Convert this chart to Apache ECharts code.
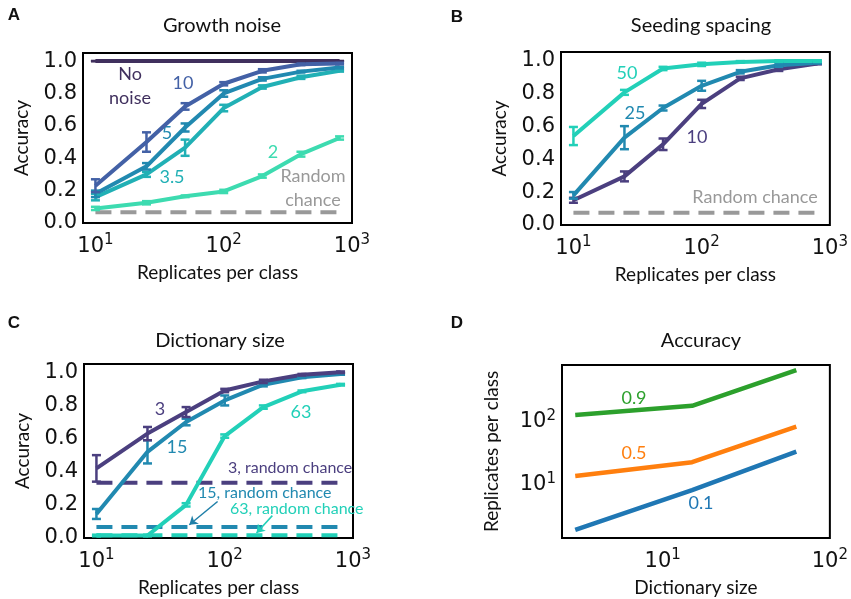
<!DOCTYPE html>
<html>
<head>
<meta charset="utf-8">
<script src="https://cdn.jsdelivr.net/npm/echarts@6/dist/echarts.min.js"></script>
<style>
  html, body { margin: 0; padding: 0; background: #fff; }
  #main { width: 851px; height: 599px; }
</style>
</head>
<body>
<div id="main"></div>
<script>
// replicates per class (x values of panels A-C)
var reps = [10, 25, 50, 100, 200, 400, 800];

// A - growth noise
var growthNoNoise = [1.0, 1.0, 1.0, 1.0, 1.0, 1.0, 1.0];
var growth10 = [0.23, 0.50, 0.72, 0.86, 0.94, 0.98, 0.985];
var growth10Err = [0.04, 0.06, 0.02, 0.01, 0.01, 0.005, 0.005];
var growth5 = [0.18, 0.35, 0.59, 0.80, 0.89, 0.935, 0.96];
var growth5Err = [0.02, 0.02, 0.025, 0.02, 0.01, 0.005, 0.005];
var growth35 = [0.16, 0.30, 0.465, 0.71, 0.84, 0.90, 0.94];
var growth35Err = [0.02, 0.015, 0.05, 0.02, 0.01, 0.01, 0.005];
var growth2 = [0.09, 0.125, 0.165, 0.195, 0.29, 0.425, 0.525];
var growth2Err = [0.01, 0.01, 0.005, 0.01, 0.01, 0.015, 0.01];
var growthChance = 0.067;

// B - seeding spacing
var seed50 = [0.54, 0.805, 0.95, 0.975, 0.99, 0.995, 0.995];
var seed50Err = [0.055, 0.015, 0.01, 0.01, 0.005, 0.005, 0.005];
var seed25 = [0.18, 0.53, 0.71, 0.845, 0.93, 0.97, 0.985];
var seed25Err = [0.02, 0.07, 0.015, 0.03, 0.01, 0.01, 0.005];
var seed10 = [0.15, 0.295, 0.49, 0.735, 0.89, 0.945, 0.98];
var seed10Err = [0.015, 0.03, 0.035, 0.025, 0.01, 0.01, 0.005];
var seedChance = 0.075;

// C - dictionary size
var dict3 = [0.42, 0.63, 0.76, 0.89, 0.945, 0.985, 1.0];
var dict3Err = [0.08, 0.04, 0.03, 0.01, 0.01, 0.005, 0.005];
var dict15 = [0.145, 0.52, 0.70, 0.83, 0.925, 0.97, 0.99];
var dict15Err = [0.03, 0.07, 0.02, 0.03, 0.01, 0.005, 0.005];
var dict63 = [0.015, 0.015, 0.20, 0.615, 0.79, 0.885, 0.925];
var dict63Err = [0.005, 0.005, 0.01, 0.01, 0.01, 0.005, 0.005];
var dictChance = [0.333, 0.067, 0.016];

// D - replicates needed for given accuracy
var dictSizes = [3, 15, 63];
var acc90 = [128, 179, 656];
var acc50 = [13.9, 22.9, 83.4];
var acc10 = [1.95, 8.3, 33.6];

var cPurple = '#40305e', cBlue = '#4361a6', cTealBlue = '#2189b0',
    cTeal = '#21b0b5', cAqua = '#3ddbb0', cGray = '#999999',
    cPurple2 = '#4b3f7f', cTeal2 = '#22d0b8';

var tickFont = 'DejaVu Sans';
var textFont = 'Lato';

function pairs(xs, ys) {
  return xs.map(function (x, i) { return [x, ys[i]]; });
}

function lineS(g, ys, color) {
  return {
    type: 'line', xAxisIndex: g, yAxisIndex: g, data: pairs(reps, ys),
    symbol: 'none', lineStyle: { color: color, width: 4 }, itemStyle: { color: color },
    z: 3
  };
}

function errorBars(params, api) {
  var x = api.value(0), y = api.value(1), e = api.value(2);
  var lo = api.coord([x, y - e]), hi = api.coord([x, y + e]);
  var w = 4.5;
  var st = { stroke: api.visual('color'), lineWidth: 2.5 };
  return {
    type: 'group', children: [
      { type: 'line', shape: { x1: lo[0], y1: lo[1], x2: hi[0], y2: hi[1] }, style: st },
      { type: 'line', shape: { x1: lo[0] - w, y1: lo[1], x2: lo[0] + w, y2: lo[1] }, style: st },
      { type: 'line', shape: { x1: hi[0] - w, y1: hi[1], x2: hi[0] + w, y2: hi[1] }, style: st }
    ]
  };
}

function errS(g, ys, es, color) {
  return {
    type: 'custom', xAxisIndex: g, yAxisIndex: g, renderItem: errorBars,
    data: reps.map(function (x, i) { return [x, ys[i], es[i]]; }),
    encode: { x: 0, y: 1 }, itemStyle: { color: color }, z: 4
  };
}

function dashS(g, level, color) {
  return {
    type: 'line', xAxisIndex: g, yAxisIndex: g,
    data: [[reps[0], level], [reps[reps.length - 1], level]],
    symbol: 'none', lineStyle: { color: color, width: 4, type: [16, 9] }, z: 2
  };
}

function logLabel(v) {
  var e = Math.log10(v);
  if (Math.abs(e - Math.round(e)) > 0.01) return '';
  return '10{s|' + Math.round(e) + '}';
}

var logRich = {
  s: { fontFamily: tickFont, fontSize: 15, color: '#111', padding: [0, 0, 12, 0] }
};

function xLog(g, min, max, name) {
  return {
    type: 'log', gridIndex: g, min: min, max: max, splitNumber: 2,
    name: name, nameLocation: 'middle', nameGap: 40,
    nameTextStyle: { fontFamily: textFont, fontSize: 19, color: '#111' },
    axisLine: { show: false }, axisTick: { show: false }, splitLine: { show: false },
    axisLabel: {
      formatter: logLabel, fontFamily: tickFont, fontSize: 21, color: '#111',
      margin: 10, rich: logRich
    }
  };
}

function yAcc(g) {
  return {
    type: 'value', gridIndex: g, min: 0, max: 1.05, interval: 0.2,
    name: 'Accuracy', nameLocation: 'middle', nameGap: 52,
    nameTextStyle: { fontFamily: textFont, fontSize: 19, color: '#111' },
    axisLine: { show: false }, axisTick: { show: false }, splitLine: { show: false },
    axisLabel: {
      fontFamily: tickFont, fontSize: 21, color: '#111', margin: 6, showMaxLabel: false,
      formatter: function (v) {
        if (Math.abs(v * 5 - Math.round(v * 5)) > 1e-6) return '';
        return v.toFixed(1);
      }
    }
  };
}

function txt(x, y, s, color, opts) {
  opts = opts || {};
  return {
    type: 'text', x: x, y: y, silent: true,
    style: {
      text: s, fill: color, align: opts.align || 'center', verticalAlign: 'middle',
      font: (opts.weight || 'normal') + ' ' + (opts.size || 18) + 'px ' + (opts.family || textFont)
    }
  };
}

var gridBox = { show: true, borderColor: '#000', borderWidth: 2, backgroundColor: 'transparent' };

var option = {
  backgroundColor: '#fff',
  animation: false,
  title: [
    { text: 'Growth noise', left: 217, top: 11, textAlign: 'center' },
    { text: 'Seeding spacing', left: 696, top: 11, textAlign: 'center' },
    { text: 'Dictionary size', left: 215, top: 326, textAlign: 'center' },
    { text: 'Accuracy', left: 696, top: 326, textAlign: 'center' }
  ].map(function (t) {
    t.textStyle = { fontFamily: textFont, fontSize: 20, fontWeight: 'normal', color: '#111' };
    return t;
  }),
  grid: [
    Object.assign({ left: 83, top: 53, width: 269, height: 170 }, gridBox),
    Object.assign({ left: 561, top: 52, width: 269, height: 173 }, gridBox),
    Object.assign({ left: 84, top: 364, width: 269, height: 174 }, gridBox),
    Object.assign({ left: 562, top: 365, width: 270, height: 173 }, gridBox)
  ],
  xAxis: [
    xLog(0, 8, 1000, 'Replicates per class'),
    xLog(1, 8, 1000, 'Replicates per class'),
    xLog(2, 8, 1000, 'Replicates per class'),
    xLog(3, 2.5, 100, 'Dictionary size')
  ],
  yAxis: [
    yAcc(0), yAcc(1), yAcc(2),
    {
      type: 'log', gridIndex: 3, min: 1.45, max: 790, splitNumber: 3,
      name: 'Replicates per class', nameLocation: 'middle', nameGap: 61,
      nameTextStyle: { fontFamily: textFont, fontSize: 19, color: '#111' },
      axisLine: { show: false }, axisTick: { show: false }, splitLine: { show: false },
      axisLabel: { formatter: logLabel, fontFamily: tickFont, fontSize: 21, color: '#111', margin: 6, rich: logRich }
    }
  ],
  series: [
    // A
    dashS(0, growthChance, cGray),
    lineS(0, growthNoNoise, cPurple), errS(0, growthNoNoise, [0, 0, 0, 0, 0, 0, 0], cPurple),
    lineS(0, growth2, cAqua), errS(0, growth2, growth2Err, cAqua),
    lineS(0, growth35, cTeal), errS(0, growth35, growth35Err, cTeal),
    lineS(0, growth5, cTealBlue), errS(0, growth5, growth5Err, cTealBlue),
    lineS(0, growth10, cBlue), errS(0, growth10, growth10Err, cBlue),
    // B
    dashS(1, seedChance, cGray),
    lineS(1, seed10, cPurple2), errS(1, seed10, seed10Err, cPurple2),
    lineS(1, seed25, cTealBlue), errS(1, seed25, seed25Err, cTealBlue),
    lineS(1, seed50, cTeal2), errS(1, seed50, seed50Err, cTeal2),
    // C
    dashS(2, dictChance[0], cPurple2),
    dashS(2, dictChance[1], cTealBlue),
    dashS(2, dictChance[2], cTeal2),
    lineS(2, dict63, cTeal2), errS(2, dict63, dict63Err, cTeal2),
    lineS(2, dict15, cTealBlue), errS(2, dict15, dict15Err, cTealBlue),
    lineS(2, dict3, cPurple2), errS(2, dict3, dict3Err, cPurple2),
    {
      type: 'line', xAxisIndex: 2, yAxisIndex: 2, data: [], symbol: 'none',
      markLine: {
        silent: true, symbol: ['none', 'arrow'], symbolSize: 8, label: { show: false },
        data: [
          [{ coord: [88, 0.22], lineStyle: { color: '#1f7fa8', width: 1.5, type: 'solid' } }, { coord: [53, 0.08] }],
          [{ coord: [235, 0.135], lineStyle: { color: cTeal2, width: 1.5, type: 'solid' } }, { coord: [177, 0.03] }]
        ]
      }
    },
    // D
    { type: 'line', xAxisIndex: 3, yAxisIndex: 3, data: pairs(dictSizes, acc90), symbol: 'none', lineStyle: { color: '#2ca02c', width: 4.5 } },
    { type: 'line', xAxisIndex: 3, yAxisIndex: 3, data: pairs(dictSizes, acc50), symbol: 'none', lineStyle: { color: '#ff7f0e', width: 4.5 } },
    { type: 'line', xAxisIndex: 3, yAxisIndex: 3, data: pairs(dictSizes, acc10), symbol: 'none', lineStyle: { color: '#1f77b4', width: 4.5 } }
  ],
  graphic: [
    txt(14, 15, 'A', '#111', { weight: 'bold', size: 17, family: 'Liberation Sans' }),
    txt(457, 17, 'B', '#111', { weight: 'bold', size: 17, family: 'Liberation Sans' }),
    txt(14, 323, 'C', '#111', { weight: 'bold', size: 17, family: 'Liberation Sans' }),
    txt(457, 323, 'D', '#111', { weight: 'bold', size: 17, family: 'Liberation Sans' }),
    // A
    txt(130, 74, 'No', cPurple), txt(130, 98, 'noise', cPurple),
    txt(183, 83, '10', cBlue), txt(167, 133, '5', cTealBlue),
    txt(172, 177, '3.5', cTeal), txt(273, 152, '2', cAqua),
    txt(313, 176, 'Random', cGray), txt(313, 200, 'chance', cGray),
    // B
    txt(627, 73, '50', cTeal2), txt(635, 113, '25', cTealBlue),
    txt(697, 137, '10', cPurple2), txt(755, 197, 'Random chance', cGray),
    // C
    txt(160, 409, '3', cPurple2), txt(177, 447, '15', cTealBlue), txt(301, 412, '63', cTeal2),
    txt(228, 468, '3, random chance', cPurple2, { align: 'left', size: 16 }),
    txt(198, 493, '15, random chance', cTealBlue, { align: 'left', size: 16 }),
    txt(230, 509, '63, random chance', cTeal2, { align: 'left', size: 16 }),
    // D
    txt(634, 398, '0.9', '#2ca02c'), txt(634, 453, '0.5', '#ff7f0e'), txt(701, 503, '0.1', '#1f77b4')
  ]
};

var chart = echarts.init(document.getElementById('main'));
chart.setOption(option);
</script>
</body>
</html>
